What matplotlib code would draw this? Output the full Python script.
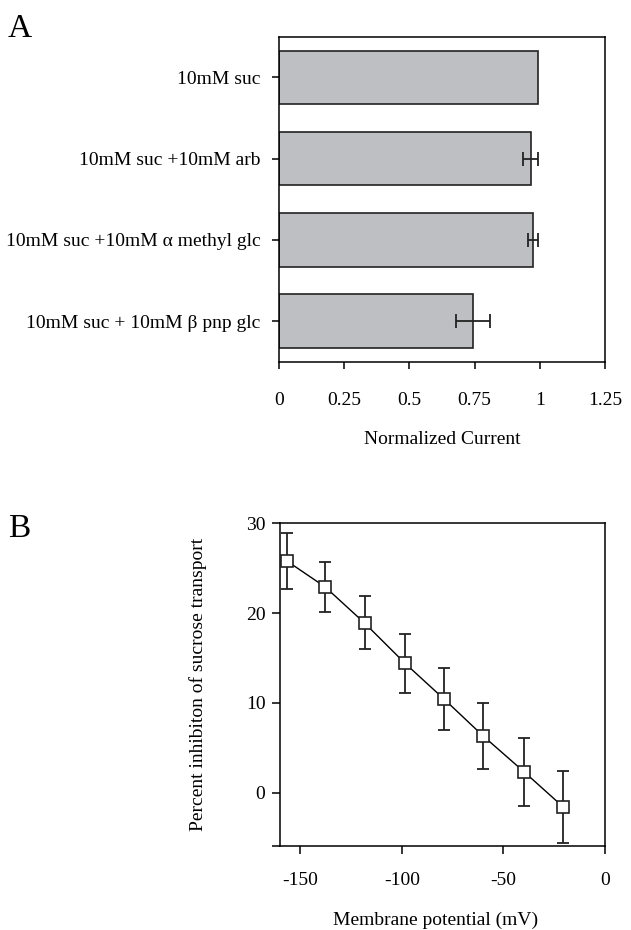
import matplotlib
matplotlib.use("Agg")
import matplotlib.pyplot as plt

plt.rcParams["font.family"] = ["Liberation Serif", "DejaVu Serif"]
plt.rcParams["font.size"] = 14
plt.rcParams["axes.unicode_minus"] = False

# panel A data
conditions = ["10mM suc", "10mM suc +10mM arb", "10mM suc +10mM \u03b1 methyl glc",
              "10mM suc + 10mM \u03b2 pnp glc"]
norm_current = [0.995, 0.965, 0.975, 0.744]
norm_err = [0.0, 0.03, 0.02, 0.064]
a_ticks = [0, 0.25, 0.5, 0.75, 1, 1.25]
a_ticklabels = ["0", "0.25", "0.5", "0.75", "1", "1.25"]

# panel B data
potential = [-156.6, -137.7, -118.4, -98.4, -79.1, -59.9, -39.7, -20.5]
inhibition = [25.8, 22.9, 18.9, 14.4, 10.4, 6.3, 2.3, -1.6]
inhib_err = [3.1, 2.8, 2.95, 3.3, 3.45, 3.65, 3.8, 4.05]
b_xticks = [-150, -100, -50, 0]
b_yticks = [0, 10, 20, 30]

W, H = 631, 930
fig = plt.figure(figsize=(W / 100, H / 100), dpi=100)


def px_axes(left, top, right, bottom):
    return fig.add_axes([left / W, 1 - bottom / H, (right - left) / W, (bottom - top) / H])


# ---- A ----
ax = px_axes(279, 36.7, 605, 361.7)
ypos = list(range(len(conditions)))
ax.barh(ypos, norm_current, height=0.66, color="#bebfc3", edgecolor="#222222", linewidth=1.2)
ax.errorbar(norm_current[1:], ypos[1:], xerr=norm_err[1:], fmt="none", ecolor="#222222",
            elinewidth=1.3, capsize=5, capthick=1.3)
ax.set_xlim(0, 1.25)
ax.set_ylim(3.5, -0.5)
ax.set_yticks(ypos)
ax.set_yticklabels(conditions)
ax.set_xticks(a_ticks)
ax.set_xticklabels(a_ticklabels)
ax.tick_params(axis="y", direction="out", length=5, width=1.1, pad=8.5)
ax.tick_params(axis="x", direction="out", length=5, width=1.1, pad=17)
for s in ax.spines.values():
    s.set_linewidth(1.1)
ax.set_xlabel("Normalized Current", va="center")
ax.xaxis.set_label_coords(0.5, -0.238)

# ---- B ----
bx = px_axes(280, 523.3, 605, 845.7)
bx.plot(potential, inhibition, color="black", linewidth=1.0, zorder=2)
bx.errorbar(potential, inhibition, yerr=inhib_err, fmt="none", ecolor="#222222",
            elinewidth=1.3, capsize=4, capthick=1.3, zorder=1)
bx.plot(potential, inhibition, linestyle="none", marker="s", markersize=8,
        markerfacecolor="white", markeredgecolor="#222222", markeredgewidth=1.2, zorder=3)
bx.set_xlim(-160, 0)
bx.set_ylim(-5.9, 30)
bx.set_xticks(b_xticks)
bx.set_yticks(b_yticks)
bx.set_yticks([-5.9], minor=True)
bx.tick_params(axis="y", which="both", direction="out", length=6, width=1.1, pad=4.5)
bx.tick_params(axis="x", direction="out", length=6, width=1.1, pad=13)
for s in bx.spines.values():
    s.set_linewidth(1.1)
bx.set_xlabel("Membrane potential (mV)", va="center")
bx.xaxis.set_label_coords(0.48, -0.2305)
bx.set_ylabel("Percent inhibiton of sucrose transport", va="center")
bx.yaxis.set_label_coords(-0.252, 0.5)

fig.text(8 / W, 1 - 37 / H, "A", fontsize=24, va="baseline", ha="left")
fig.text(8 / W, 1 - 537 / H, "B", fontsize=24, va="baseline", ha="left")

fig.savefig("out.png", dpi=100)
